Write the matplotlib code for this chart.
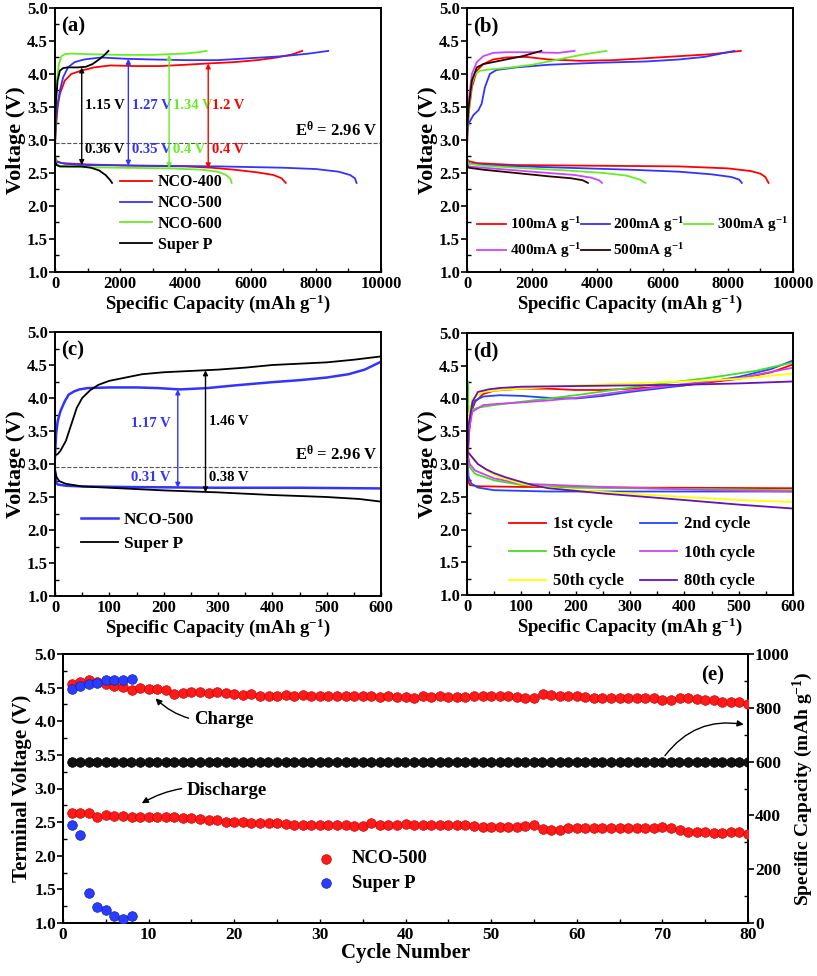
import matplotlib
matplotlib.use('Agg')
import matplotlib.pyplot as plt
from matplotlib.ticker import MultipleLocator

plt.rcParams['font.family'] = ['Liberation Serif', 'DejaVu Serif']
plt.rcParams['font.weight'] = 'bold'
plt.rcParams['axes.labelweight'] = 'bold'
plt.rcParams['mathtext.fontset'] = 'custom'
plt.rcParams['mathtext.rm'] = 'Liberation Serif:bold'
plt.rcParams['mathtext.it'] = 'Liberation Serif:bold'
plt.rcParams['mathtext.bf'] = 'Liberation Serif:bold'

# ---------------- (a) first cycle, different samples ----------------
a400_cx = [0, 30, 80, 150, 300, 500, 800, 1200, 1700, 2500, 3200, 4000, 4700, 5500, 6200, 6800, 7300, 7580]
a400_cy = [2.90, 3.20, 3.50, 3.70, 3.90, 4.00, 4.05, 4.10, 4.13, 4.12, 4.12, 4.14, 4.16, 4.18, 4.21, 4.25, 4.30, 4.35]
a400_dx = [0, 50, 200, 1000, 2500, 4000, 4800, 5500, 6200, 6700, 6950, 7080]
a400_dy = [2.75, 2.68, 2.65, 2.63, 2.61, 2.60, 2.58, 2.55, 2.51, 2.47, 2.42, 2.35]
a500_cx = [0, 30, 80, 150, 250, 400, 600, 900, 1400, 2200, 3000, 4000, 5000, 6000, 7000, 7800, 8380]
a500_cy = [2.95, 3.30, 3.55, 3.75, 3.95, 4.10, 4.18, 4.22, 4.25, 4.23, 4.22, 4.21, 4.21, 4.24, 4.27, 4.31, 4.35]
a500_dx = [0, 50, 300, 1000, 3000, 5000, 7000, 8000, 8700, 9050, 9200, 9250]
a500_dy = [2.72, 2.67, 2.64, 2.62, 2.61, 2.60, 2.58, 2.56, 2.52, 2.47, 2.42, 2.35]
a600_cx = [0, 20, 60, 120, 200, 300, 500, 1000, 2000, 3000, 3500, 4000, 4400, 4650]
a600_cy = [2.90, 3.40, 3.90, 4.15, 4.27, 4.30, 4.31, 4.30, 4.29, 4.29, 4.30, 4.31, 4.33, 4.35]
a600_dx = [0, 30, 150, 500, 2000, 3500, 4500, 5000, 5250, 5380, 5420]
a600_dy = [2.78, 2.65, 2.60, 2.59, 2.58, 2.57, 2.55, 2.52, 2.47, 2.41, 2.35]
asp_cx = [0, 30, 80, 150, 250, 400, 700, 950, 1150, 1350, 1500, 1640]
asp_cy = [3.00, 3.60, 3.90, 4.05, 4.09, 4.10, 4.10, 4.11, 4.15, 4.22, 4.28, 4.35]
asp_dx = [0, 50, 150, 400, 800, 1100, 1350, 1550, 1680, 1750]
asp_dy = [2.68, 2.62, 2.60, 2.60, 2.60, 2.58, 2.54, 2.47, 2.40, 2.35]
a_gap_x = [820, 2250, 3500, 4700]
a_gap_lo = [2.62, 2.61, 2.57, 2.57]
a_gap_hi = [4.10, 4.23, 4.29, 4.16]
a_gap_up = ['1.15 V', '1.27 V', '1.34 V', '1.2 V']
a_gap_dn = ['0.36 V', '0.35 V', '0.4 V', '0.4 V']
a_gap_col = ['black', '#3333ff', '#66ee22', '#ff0000']

# ---------------- (b) rate performance ----------------
b100_cx = [0, 50, 150, 300, 500, 800, 1200, 1800, 2500, 3500, 4500, 5500, 6500, 7500, 8400]
b100_cy = [2.90, 3.40, 3.80, 4.05, 4.15, 4.22, 4.25, 4.26, 4.22, 4.20, 4.21, 4.24, 4.27, 4.30, 4.35]
b100_dx = [0, 50, 300, 1500, 4000, 6500, 8000, 8700, 9000, 9150, 9250]
b100_dy = [2.72, 2.68, 2.65, 2.62, 2.61, 2.60, 2.57, 2.53, 2.49, 2.44, 2.35]
b200_cx = [0, 50, 200, 350, 450, 550, 700, 900, 1500, 2500, 4000, 5500, 6500, 7300, 8200]
b200_cy = [3.10, 3.25, 3.38, 3.45, 3.55, 3.80, 4.00, 4.06, 4.10, 4.14, 4.17, 4.19, 4.22, 4.26, 4.35]
b200_dx = [0, 100, 1000, 3000, 5000, 6500, 7500, 8100, 8350, 8430]
b200_dy = [2.68, 2.64, 2.61, 2.58, 2.55, 2.52, 2.48, 2.44, 2.40, 2.35]
b300_cx = [0, 50, 150, 250, 400, 700, 1200, 2000, 2800, 3500, 4000, 4280]
b300_cy = [3.05, 3.40, 3.85, 4.00, 4.05, 4.07, 4.09, 4.14, 4.22, 4.29, 4.33, 4.35]
b300_dx = [0, 50, 500, 1500, 3000, 4200, 4900, 5300, 5470]
b300_dy = [2.70, 2.64, 2.61, 2.58, 2.54, 2.50, 2.46, 2.40, 2.35]
b400_cx = [0, 50, 150, 300, 500, 800, 1200, 2000, 2800, 3300]
b400_cy = [3.10, 3.60, 4.00, 4.18, 4.27, 4.32, 4.33, 4.33, 4.32, 4.35]
b400_dx = [0, 50, 500, 1500, 2500, 3300, 3800, 4050, 4140]
b400_dy = [2.66, 2.60, 2.58, 2.54, 2.50, 2.47, 2.43, 2.39, 2.35]
b500_cx = [0, 50, 150, 300, 500, 800, 1200, 1700, 2280]
b500_cy = [3.10, 3.50, 3.90, 4.10, 4.15, 4.18, 4.22, 4.27, 4.35]
b500_dx = [0, 50, 500, 1500, 2500, 3200, 3550, 3710]
b500_dy = [2.62, 2.58, 2.55, 2.50, 2.45, 2.42, 2.39, 2.35]

# ---------------- (c) capacity-limited 600 mAh/g ----------------
c500_cx = [0, 2, 5, 10, 18, 25, 35, 45, 60, 100, 150, 190, 230, 280, 330, 400, 450, 500, 540, 570, 600]
c500_cy = [3.10, 3.45, 3.65, 3.80, 3.95, 4.05, 4.10, 4.13, 4.15, 4.16, 4.16, 4.15, 4.13, 4.15, 4.19, 4.24, 4.27, 4.31, 4.36, 4.43, 4.55]
c500_dx = [0, 2, 5, 20, 50, 150, 300, 450, 600]
c500_dy = [2.90, 2.72, 2.69, 2.67, 2.66, 2.65, 2.64, 2.64, 2.63]
csp_cx = [0, 5, 10, 20, 30, 40, 50, 65, 80, 100, 130, 160, 200, 250, 300, 350, 400, 450, 500, 550, 600]
csp_cy = [3.13, 3.15, 3.20, 3.35, 3.60, 3.85, 4.00, 4.12, 4.20, 4.26, 4.31, 4.36, 4.39, 4.41, 4.43, 4.46, 4.50, 4.52, 4.54, 4.58, 4.63]
csp_dx = [0, 3, 8, 20, 50, 100, 200, 300, 400, 500, 560, 600]
csp_dy = [2.90, 2.80, 2.74, 2.70, 2.66, 2.64, 2.60, 2.57, 2.53, 2.50, 2.47, 2.43]

# ---------------- (d) selected cycles ----------------
d1_cx = [0, 3, 8, 15, 30, 50, 100, 150, 200, 250, 300, 400, 500, 560, 600]
d1_cy = [2.70, 3.40, 3.80, 3.95, 4.07, 4.12, 4.15, 4.15, 4.13, 4.13, 4.15, 4.20, 4.30, 4.40, 4.52]
d1_dx = [0, 2, 5, 20, 100, 300, 600, 600]
d1_dy = [3.20, 2.75, 2.68, 2.66, 2.65, 2.64, 2.63, 2.36]
d2_cx = [0, 3, 8, 15, 30, 60, 100, 150, 200, 250, 300, 400, 500, 560, 600]
d2_cy = [2.70, 3.50, 3.85, 3.97, 4.03, 4.05, 4.04, 4.01, 4.00, 4.04, 4.10, 4.20, 4.33, 4.45, 4.58]
d2_dx = [0, 3, 8, 20, 50, 150, 300, 450, 600]
d2_dy = [3.20, 2.80, 2.70, 2.64, 2.60, 2.58, 2.58, 2.58, 2.58]
d5_cx = [0, 1, 3, 10, 20, 50, 100, 200, 330, 450, 530, 600]
d5_cy = [2.70, 4.27, 3.80, 3.83, 3.86, 3.90, 3.95, 4.05, 4.20, 4.32, 4.42, 4.55]
d5_dx = [0, 5, 15, 50, 100, 200, 400, 600]
d5_dy = [3.20, 2.95, 2.85, 2.75, 2.68, 2.64, 2.62, 2.60]
d10_cx = [0, 3, 10, 30, 60, 100, 150, 200, 300, 400, 500, 600]
d10_cy = [2.70, 3.50, 3.80, 3.90, 3.92, 3.94, 3.97, 4.01, 4.12, 4.22, 4.31, 4.47]
d10_dx = [0, 5, 15, 50, 100, 250, 450, 600]
d10_dy = [3.20, 3.00, 2.90, 2.78, 2.70, 2.65, 2.60, 2.58]
d50_cx = [0, 3, 10, 30, 60, 100, 200, 300, 400, 500, 600]
d50_cy = [2.70, 3.70, 4.00, 4.10, 4.13, 4.15, 4.20, 4.23, 4.26, 4.30, 4.38]
d50_dx = [0, 10, 20, 40, 60, 100, 150, 200, 350, 500, 600]
d50_dy = [3.20, 3.08, 3.00, 2.88, 2.80, 2.70, 2.64, 2.60, 2.52, 2.45, 2.42]
d80_cx = [0, 3, 10, 20, 40, 60, 100, 200, 300, 400, 500, 600]
d80_cy = [2.70, 3.60, 3.95, 4.10, 4.14, 4.16, 4.18, 4.19, 4.20, 4.21, 4.23, 4.26]
d80_dx = [0, 10, 20, 35, 50, 70, 90, 120, 150, 250, 400, 500, 600]
d80_dy = [3.20, 3.10, 3.00, 2.92, 2.86, 2.80, 2.75, 2.68, 2.63, 2.55, 2.45, 2.38, 2.32]

# ---------------- (e) cycling ----------------
e_cycles = list(range(1, 81))
e_chg = [4.56, 4.59, 4.62, 4.58, 4.56, 4.53, 4.51, 4.47, 4.49, 4.48, 4.48, 4.46, 4.41, 4.42, 4.44, 4.44, 4.42, 4.43, 4.42, 4.40,
         4.39, 4.40, 4.38, 4.38, 4.38, 4.39, 4.38, 4.39, 4.37, 4.38, 4.37, 4.38, 4.37, 4.38, 4.37, 4.37, 4.36, 4.37, 4.36, 4.36,
         4.35, 4.37, 4.36, 4.37, 4.36, 4.36, 4.36, 4.37, 4.38, 4.38, 4.37, 4.38, 4.36, 4.35, 4.35, 4.40, 4.39, 4.37, 4.37, 4.37,
         4.36, 4.35, 4.35, 4.35, 4.35, 4.35, 4.35, 4.34, 4.34, 4.31, 4.31, 4.34, 4.34, 4.33, 4.32, 4.31, 4.29, 4.28, 4.28, 4.26]
e_dis = [2.63, 2.64, 2.63, 2.58, 2.60, 2.59, 2.59, 2.58, 2.58, 2.58, 2.57, 2.57, 2.57, 2.56, 2.56, 2.55, 2.53, 2.53, 2.50, 2.50,
         2.50, 2.49, 2.48, 2.49, 2.48, 2.47, 2.46, 2.46, 2.46, 2.45, 2.45, 2.45, 2.45, 2.44, 2.44, 2.49, 2.46, 2.45, 2.45, 2.47,
         2.45, 2.46, 2.45, 2.45, 2.45, 2.45, 2.45, 2.44, 2.43, 2.43, 2.43, 2.43, 2.43, 2.44, 2.45, 2.40, 2.38, 2.39, 2.42, 2.42,
         2.42, 2.42, 2.42, 2.42, 2.42, 2.42, 2.42, 2.41, 2.42, 2.43, 2.42, 2.38, 2.35, 2.36, 2.35, 2.34, 2.34, 2.35, 2.35, 2.33]
sp_cycles = [1, 2, 3, 4, 5, 6, 7, 8]
sp_chg = [4.48, 4.52, 4.55, 4.57, 4.61, 4.62, 4.62, 4.63]
sp_dis = [2.46, 2.31, 1.45, 1.24, 1.19, 1.11, 1.06, 1.10]
e_cap = [600] * 80

RED = '#ff0000'
BLUE = '#3333ff'
GREEN = '#66ee22'
XLAB = 'Specific Capacity (mAh g$^{-1}$)'
W, H = 817, 976


def add_ax(left, top, right, bottom):
    return fig.add_axes([left / W, 1 - bottom / H, (right - left) / W, (bottom - top) / H])


def style(ax, xmax, xmaj, xmin):
    ax.set_xlim(0, xmax)
    ax.set_ylim(1.0, 5.0)
    ax.xaxis.set_major_locator(MultipleLocator(xmaj))
    ax.xaxis.set_minor_locator(MultipleLocator(xmin))
    ax.yaxis.set_major_locator(MultipleLocator(0.5))
    ax.yaxis.set_minor_locator(MultipleLocator(0.25))
    ax.tick_params(axis='y', which='major', direction='out', length=4, width=1.2, labelsize=12, pad=1)
    ax.tick_params(axis='y', which='minor', direction='in', length=3, width=1)
    ax.tick_params(axis='x', which='both', direction='in', length=3, width=1, labelsize=12, pad=3)
    for s in ax.spines.values():
        s.set_linewidth(1.4)
    ax.set_xlabel(XLAB, fontsize=13.5, labelpad=0)
    ax.set_ylabel('Voltage (V)', fontsize=16, labelpad=1)


def darrow(ax, x, lo, hi, c):
    ax.annotate('', xy=(x, hi), xytext=(x, lo),
                arrowprops=dict(arrowstyle='<|-|>', color=c, lw=1, mutation_scale=7,
                                shrinkA=0, shrinkB=0))


fig = plt.figure(figsize=(8.17, 9.76), dpi=100)

# ---- (a)
ax = add_ax(55, 8, 381, 272)
ax.plot(a400_cx, a400_cy, color=RED, lw=1.3, label='NCO-400')
ax.plot(a500_cx, a500_cy, color=BLUE, lw=1.3, label='NCO-500')
ax.plot(a600_cx, a600_cy, color=GREEN, lw=1.3, label='NCO-600')
ax.plot(asp_cx, asp_cy, color='black', lw=1.3, label='Super P')
ax.plot(a400_dx, a400_dy, color=RED, lw=1.3)
ax.plot(a500_dx, a500_dy, color=BLUE, lw=1.3)
ax.plot(a600_dx, a600_dy, color=GREEN, lw=1.3)
ax.plot(asp_dx, asp_dy, color='black', lw=1.3)
ax.axhline(2.96, ls='--', color='#555555', lw=0.8)
ax.text(9900, 3.0, r'E$^{\theta}$ = 2.96 V', ha='right', va='bottom', fontsize=12)
for x, lo, hi, up, dn, c in zip(a_gap_x, a_gap_lo, a_gap_hi, a_gap_up, a_gap_dn, a_gap_col):
    darrow(ax, x, lo, hi, c)
    ax.text(x + 110, 3.52, up, color=c, fontsize=10.5, va='center')
    ax.text(x + 110, 2.86, dn, color=c, fontsize=10.5, va='center')
ax.text(0.02, 0.93, '(a)', transform=ax.transAxes, fontsize=15, va='center')
ax.legend(loc='upper left', bbox_to_anchor=(0.2, 0.37), frameon=False, fontsize=11.5,
          handlelength=2.0, handletextpad=0.35, labelspacing=0.3, borderpad=0, borderaxespad=0)
style(ax, 10000, 2000, 1000)

# ---- (b)
ax = add_ax(467, 8, 793, 272)
b_lbl = ['100mA g$^{-1}$', '200mA g$^{-1}$', '300mA g$^{-1}$', '400mA g$^{-1}$', '500mA g$^{-1}$']
b_col = [RED, BLUE, GREEN, '#cc44ff', '#330000']
b_c = [(b100_cx, b100_cy), (b200_cx, b200_cy), (b300_cx, b300_cy), (b400_cx, b400_cy), (b500_cx, b500_cy)]
b_d = [(b100_dx, b100_dy), (b200_dx, b200_dy), (b300_dx, b300_dy), (b400_dx, b400_dy), (b500_dx, b500_dy)]
handles = []
for (cx, cy), (dx, dy), c, l in zip(b_c, b_d, b_col, b_lbl):
    h, = ax.plot(cx, cy, color=c, lw=1.3, label=l)
    ax.plot(dx, dy, color=c, lw=1.3)
    handles.append(h)
order = [0, 3, 1, 4, 2]  # row-wise reading
ax.text(0.02, 0.93, '(b)', transform=ax.transAxes, fontsize=15, va='center')
ax.legend([handles[i] for i in order], [b_lbl[i] for i in order],
          loc='upper left', bbox_to_anchor=(0.03, 0.215), frameon=False, fontsize=11, ncol=3,
          handlelength=1.9, handletextpad=0.25, labelspacing=0.45, columnspacing=0.0,
          borderpad=0, borderaxespad=0)
style(ax, 10000, 2000, 1000)

# ---- (c)
ax = add_ax(55, 332, 381, 596)
ax.plot(c500_cx, c500_cy, color=BLUE, lw=1.8, label='NCO-500')
ax.plot(csp_cx, csp_cy, color='black', lw=1.3, label='Super P')
ax.plot(c500_dx, c500_dy, color=BLUE, lw=1.8)
ax.plot(csp_dx, csp_dy, color='black', lw=1.3)
ax.axhline(2.96, ls='--', color='#555555', lw=0.8)
ax.text(594, 3.0, r'E$^{\theta}$ = 2.96 V', ha='right', va='bottom', fontsize=12)
darrow(ax, 226, 2.64, 4.13, BLUE)
darrow(ax, 277, 2.57, 4.42, 'black')
ax.text(213, 3.62, '1.17 V', color=BLUE, fontsize=10.5, ha='right', va='center')
ax.text(284, 3.65, '1.46 V', color='black', fontsize=10.5, va='center')
ax.text(213, 2.80, '0.31 V', color=BLUE, fontsize=10.5, ha='right', va='center')
ax.text(284, 2.80, '0.38 V', color='black', fontsize=10.5, va='center')
ax.text(0.02, 0.93, '(c)', transform=ax.transAxes, fontsize=15, va='center')
ax.legend(loc='upper left', bbox_to_anchor=(0.08, 0.32), frameon=False, fontsize=12.5,
          handlelength=2.1, handletextpad=0.35, labelspacing=0.45, borderpad=0, borderaxespad=0)
style(ax, 600, 100, 50)

# ---- (d)
ax = add_ax(467, 333, 793, 595)
d_lbl = ['1st cycle', '2nd cycle', '5th cycle', '10th cycle', '50th cycle', '80th cycle']
d_col = [RED, '#2244ff', '#44dd22', '#cc44ee', '#ffff00', '#6611bb']
d_c = [(d1_cx, d1_cy), (d2_cx, d2_cy), (d5_cx, d5_cy), (d10_cx, d10_cy), (d50_cx, d50_cy), (d80_cx, d80_cy)]
d_d = [(d1_dx, d1_dy), (d2_dx, d2_dy), (d5_dx, d5_dy), (d10_dx, d10_dy), (d50_dx, d50_dy), (d80_dx, d80_dy)]
handles = []
for (cx, cy), (dx, dy), c, l in zip(d_c, d_d, d_col, d_lbl):
    h, = ax.plot(cx, cy, color=c, lw=1.3, label=l)
    ax.plot(dx, dy, color=c, lw=1.3)
    handles.append(h)
order = [0, 2, 4, 1, 3, 5]  # row-wise reading
ax.text(0.02, 0.93, '(d)', transform=ax.transAxes, fontsize=15, va='center')
ax.legend([handles[i] for i in order], [d_lbl[i] for i in order],
          loc='upper left', bbox_to_anchor=(0.13, 0.30), frameon=False, fontsize=12, ncol=2,
          handlelength=2.2, handletextpad=0.4, labelspacing=0.75, columnspacing=1.0,
          borderpad=0, borderaxespad=0)
style(ax, 600, 100, 50)

# ---- (e)
ax = add_ax(63, 654, 748, 923)
ax2 = ax.twinx()
ax2.scatter(e_cycles, e_cap, s=48, color='#111111', edgecolors='black', linewidths=0.5, zorder=3)
ax2.set_ylim(0, 1000)
ax2.yaxis.set_major_locator(MultipleLocator(200))
ax2.yaxis.set_minor_locator(MultipleLocator(100))
ax2.tick_params(axis='y', which='major', direction='out', length=4, width=1.2, labelsize=12.5, pad=1)
ax2.tick_params(axis='y', which='minor', direction='in', length=3, width=1)
ax2.set_ylabel('Specific Capacity (mAh g$^{-1}$)', fontsize=14, labelpad=1)
ax.set_zorder(ax2.get_zorder() + 1)
ax.patch.set_visible(False)
ax.scatter(e_cycles, e_chg, s=48, color='#ff1a1a', edgecolors='#cc0000', linewidths=0.5, label='NCO-500', zorder=3)
ax.scatter(e_cycles, e_dis, s=48, color='#ff1a1a', edgecolors='#cc0000', linewidths=0.5, zorder=3)
ax.scatter(sp_cycles, sp_chg, s=48, color='#2a3cff', edgecolors='#1020aa', linewidths=0.5, label='Super P', zorder=4)
ax.scatter(sp_cycles, sp_dis, s=48, color='#2a3cff', edgecolors='#1020aa', linewidths=0.5, zorder=4)
ax.set_xlim(0, 80)
ax.set_ylim(1.0, 5.0)
ax.xaxis.set_major_locator(MultipleLocator(10))
ax.xaxis.set_minor_locator(MultipleLocator(5))
ax.yaxis.set_major_locator(MultipleLocator(0.5))
ax.yaxis.set_minor_locator(MultipleLocator(0.25))
ax.tick_params(axis='y', which='major', direction='out', length=4, width=1.2, labelsize=12.5, pad=1)
ax.tick_params(axis='y', which='minor', direction='in', length=3, width=1)
ax.tick_params(axis='x', which='both', direction='in', length=3, width=1, labelsize=12.5, pad=3)
for a_ in (ax, ax2):
    for s in a_.spines.values():
        s.set_linewidth(1.4)
ax.set_xlabel('Cycle Number', fontsize=15, labelpad=0)
ax.set_ylabel('Terminal Voltage (V)', fontsize=15, labelpad=2)
ax.annotate('Charge', xy=(10.8, 4.34), xytext=(15.3, 4.02), fontsize=13.5, va='center',
            arrowprops=dict(arrowstyle='-|>', color='black', lw=1, mutation_scale=9,
                            connectionstyle='arc3,rad=-0.25', shrinkA=2, shrinkB=0))
ax.annotate('Discharge', xy=(9.2, 2.78), xytext=(14.5, 2.97), fontsize=13.5, va='center',
            arrowprops=dict(arrowstyle='-|>', color='black', lw=1, mutation_scale=9,
                            connectionstyle='arc3,rad=0.2', shrinkA=2, shrinkB=0))
ax2.annotate('', xy=(79.5, 738), xytext=(70.3, 622),
             arrowprops=dict(arrowstyle='-|>', color='black', lw=1, mutation_scale=9,
                             connectionstyle='arc3,rad=-0.3', shrinkA=0, shrinkB=0))
ax.text(0.965, 0.92, '(e)', transform=ax.transAxes, fontsize=15, ha='right', va='center')
ax.legend(loc='upper left', bbox_to_anchor=(0.37, 0.27), frameon=False, fontsize=13.5,
          scatterpoints=1, handlelength=1.0, handletextpad=0.9, labelspacing=0.4,
          borderpad=0, borderaxespad=0)

fig.savefig('out.png', dpi=100)
